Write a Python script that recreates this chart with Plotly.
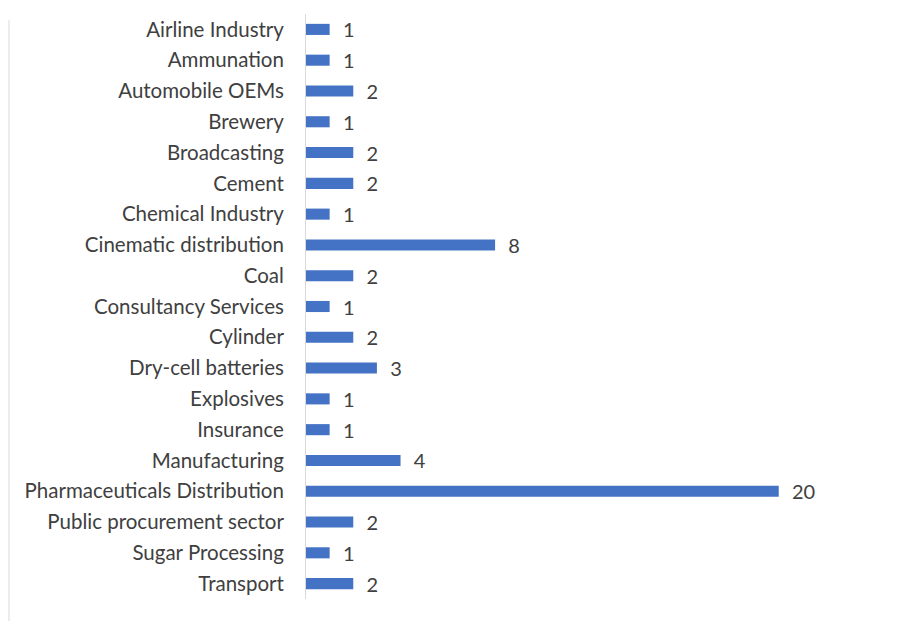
import plotly.graph_objects as go

categories = ["Airline Industry", "Ammunation", "Automobile OEMs", "Brewery", "Broadcasting",
              "Cement", "Chemical Industry", "Cinematic distribution", "Coal",
              "Consultancy Services", "Cylinder", "Dry-cell batteries", "Explosives",
              "Insurance", "Manufacturing", "Pharmaceuticals Distribution",
              "Public procurement sector", "Sugar Processing", "Transport"]
values = [1, 1, 2, 1, 2, 2, 1, 8, 2, 1, 2, 3, 1, 1, 4, 20, 2, 1, 2]

W, H = 902, 621
ml, mr, mt, mb = 306, 76, 14, 22
FONT = "Lato, Carlito, sans-serif"

fig = go.Figure(go.Bar(
    y=categories, x=values, orientation="h",
    marker=dict(color="#4472C4", line=dict(width=0)),
    texttemplate="  %{x}", textposition="outside", constraintext="none",
    textfont=dict(family=FONT, size=20, color="#404040"),
    cliponaxis=False,
))

plot_w = W - ml - mr
fig.update_layout(
    width=W, height=H,
    margin=dict(l=ml, r=mr, t=mt, b=mb),
    paper_bgcolor="white", plot_bgcolor="white",
    bargap=0.64,
    showlegend=False,
    xaxis=dict(range=[0, 22], visible=False, fixedrange=True),
    yaxis=dict(autorange="reversed", showline=True, linecolor="#d9d9d9", linewidth=1,
               ticks="", showgrid=False, ticklabelstandoff=17,
               tickfont=dict(family=FONT, size=20.5, color="#404040")),
    shapes=[dict(type="line", xref="paper", yref="paper",
                 x0=(9 - ml) / plot_w, x1=(9 - ml) / plot_w,
                 y0=-mb / (H - mt - mb), y1=1 + (mt - 20) / (H - mt - mb),
                 line=dict(color="#d9d9d9", width=1))],
)
fig.write_html("out.html")
